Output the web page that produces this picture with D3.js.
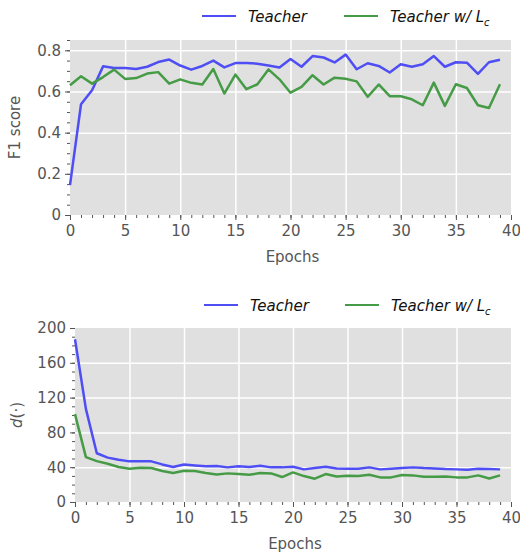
<!DOCTYPE html>
<html>
<head>
<meta charset="utf-8">
<script src="https://cdn.jsdelivr.net/npm/d3@7"></script>
<style>
body { margin: 0; background: #fff; }
svg text { font-family: "DejaVu Sans", sans-serif; }
.grid line { stroke: #fff; stroke-width: 1.5; }
.grid path { display: none; }
.axis path { display: none; }
.axis line { stroke: #555; }
.axis text { fill: #555; font-size: 15px; }
</style>
</head>
<body>
<svg id="chart" width="520" height="553"></svg>
<script>
const epochs = d3.range(40);

const f1Teacher = [0.145, 0.538, 0.606, 0.722, 0.714, 0.714, 0.709, 0.72, 0.743, 0.755,
  0.726, 0.706, 0.724, 0.75, 0.717, 0.738, 0.738, 0.735, 0.726, 0.716,
  0.758, 0.72, 0.772, 0.765, 0.741, 0.779, 0.708, 0.737, 0.724, 0.692,
  0.732, 0.72, 0.732, 0.772, 0.72, 0.742, 0.74, 0.685, 0.742, 0.754];
const f1TeacherLc = [0.63, 0.674, 0.638, 0.67, 0.706, 0.661, 0.665, 0.687, 0.694, 0.638,
  0.659, 0.642, 0.634, 0.709, 0.59, 0.682, 0.611, 0.635, 0.707, 0.659,
  0.594, 0.622, 0.679, 0.634, 0.667, 0.662, 0.649, 0.574, 0.634, 0.577,
  0.577, 0.562, 0.533, 0.643, 0.53, 0.635, 0.617, 0.533, 0.52, 0.635];

const dTeacher = [187, 107, 56, 51, 48.6, 46.7, 46.7, 46.7, 43.2, 40.2,
  43.2, 42, 41, 41.3, 39.8, 41, 40.2, 41.7, 39.8, 39.8,
  40.5, 37.5, 39, 40.5, 38.6, 38.2, 38.2, 39.8, 37.5, 38.2,
  39, 39.8, 39, 38.6, 37.9, 37.5, 37.1, 38.2, 37.9, 37.5];
const dTeacherLc = [101, 51.6, 47, 44, 40.2, 38.2, 39.4, 39, 35.6, 33.3,
  36, 35.6, 33.3, 31.7, 32.9, 32.1, 31.4, 33.3, 32.9, 28.7,
  34, 29.8, 26.8, 32.1, 29.4, 30.2, 29.8, 31.4, 28.3, 28.3,
  31, 30.6, 29.1, 29.1, 29.4, 28.3, 28.3, 30.6, 27.1, 30.6];

const xTicks = [0, 5, 10, 15, 20, 25, 30, 35, 40];
const f1Ticks = [0, 0.2, 0.4, 0.6, 0.8];
const dTicks = [0, 40, 80, 120, 160, 200];

const blue = "rgb(78,78,244)";
const green = "rgb(70,155,70)";

const svg = d3.select("#chart");

function drawPanel(opts) {
  const { left, right, top, bottom, yDomain, yTicks, yMinorStep, yFormat, series, ylabel, legendY } = opts;
  const x = d3.scaleLinear().domain([0, 40]).range([left, right]);
  const y = d3.scaleLinear().domain(yDomain).range([bottom, top]);

  svg.append("rect")
    .attr("x", left).attr("y", top)
    .attr("width", right - left).attr("height", bottom - top)
    .attr("fill", "#e0e0e0");

  // gridlines
  svg.append("g")
    .attr("class", "grid")
    .attr("transform", `translate(0,${bottom})`)
    .call(d3.axisBottom(x).tickValues(xTicks.slice(1, -1)).tickSize(-(bottom - top)).tickFormat(""));
  svg.append("g")
    .attr("class", "grid")
    .attr("transform", `translate(${left},0)`)
    .call(d3.axisLeft(y).tickValues(yTicks.slice(1).filter(v => v < yDomain[1])).tickSize(-(right - left)).tickFormat(""));

  // minor ticks
  svg.append("g")
    .attr("class", "axis")
    .attr("transform", `translate(0,${bottom})`)
    .call(d3.axisBottom(x).tickValues(d3.range(0, 41)).tickSize(3).tickFormat(""));
  const yMinor = d3.range(yDomain[0], yDomain[1] + 1e-9, yMinorStep);
  svg.append("g")
    .attr("class", "axis")
    .attr("transform", `translate(${left},0)`)
    .call(d3.axisLeft(y).tickValues(yMinor).tickSize(3).tickFormat(""));

  // major ticks
  svg.append("g")
    .attr("class", "axis")
    .attr("transform", `translate(0,${bottom})`)
    .call(d3.axisBottom(x).tickValues(xTicks).tickSize(5).tickPadding(5).tickFormat(d3.format("d")));
  svg.append("g")
    .attr("class", "axis")
    .attr("transform", `translate(${left},0)`)
    .call(d3.axisLeft(y).tickValues(yTicks).tickSize(5).tickPadding(4).tickFormat(yFormat));

  const line = d3.line().x((d, i) => x(i)).y(d => y(d));
  series.forEach(s => {
    svg.append("path")
      .datum(s.values)
      .attr("fill", "none")
      .attr("stroke", s.color)
      .attr("stroke-width", 2.5)
      .attr("stroke-linejoin", "round")
      .attr("d", line);
  });

  svg.append("text")
    .attr("x", (left + right) / 2 + 2)
    .attr("y", bottom + 47)
    .attr("text-anchor", "middle")
    .attr("fill", "#555")
    .attr("font-size", 15)
    .text("Epochs");

  svg.append("text")
    .attr("transform", `translate(${opts.ylabelX},${(top + bottom) / 2}) rotate(-90)`)
    .attr("text-anchor", "middle")
    .attr("fill", "#555")
    .attr("font-size", 15)
    .html(ylabel);

  // legend
  const lg = svg.append("g").attr("transform", `translate(0,${legendY})`);
  const items = [
    { color: blue, x0: opts.legendX[0], label: "Teacher" },
    { color: green, x0: opts.legendX[1], label: "Teacher w/ <tspan>L</tspan><tspan font-size='10' dy='4'>c</tspan>" }
  ];
  items.forEach(it => {
    lg.append("line")
      .attr("x1", it.x0).attr("x2", it.x0 + 34)
      .attr("y1", 0).attr("y2", 0)
      .attr("stroke", it.color)
      .attr("stroke-width", 2);
    lg.append("text")
      .attr("x", it.x0 + 46)
      .attr("y", 6)
      .attr("font-size", 15)
      .attr("font-style", "italic")
      .attr("fill", "#111")
      .html(it.label);
  });
}

drawPanel({
  left: 70, right: 511, top: 40, bottom: 215,
  yDomain: [0, 0.85], yTicks: f1Ticks, yMinorStep: 0.05,
  yFormat: d => d === 0 ? "0" : d3.format(".1f")(d),
  series: [{ values: f1Teacher, color: blue }, { values: f1TeacherLc, color: green }],
  ylabel: "F1 score", ylabelX: 20,
  legendY: 16, legendX: [202, 344]
});

drawPanel({
  left: 75, right: 511, top: 328, bottom: 502,
  yDomain: [0, 200], yTicks: dTicks, yMinorStep: 10,
  yFormat: d3.format("d"),
  series: [{ values: dTeacher, color: blue }, { values: dTeacherLc, color: green }],
  ylabel: "<tspan font-style='italic'>d</tspan>(·)", ylabelX: 22,
  legendY: 305, legendX: [204, 345]
});
</script>
</body>
</html>
